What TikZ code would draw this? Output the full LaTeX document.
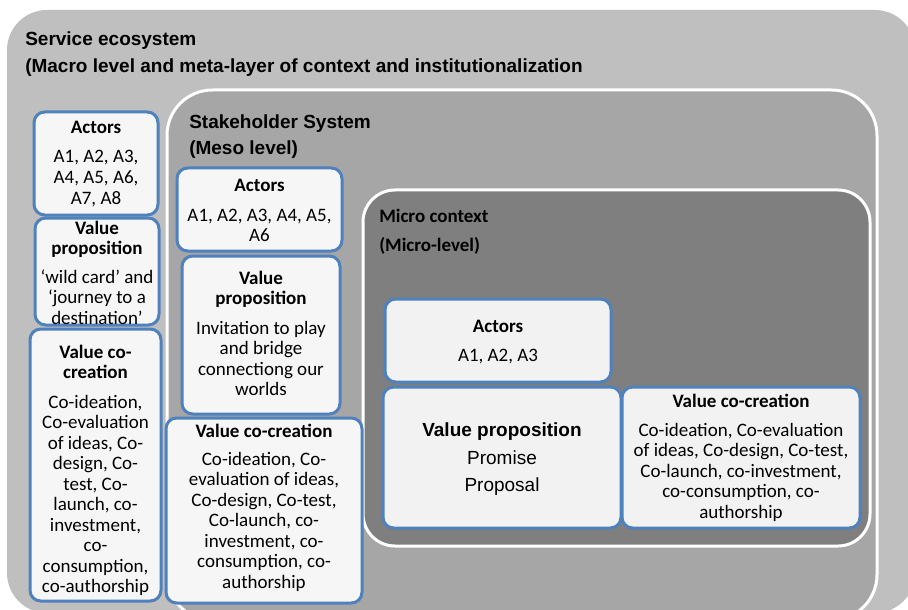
\documentclass[tikz,border=0pt]{standalone}
\usepackage{fontspec}
\usetikzlibrary{fit}
\newfontfamily\calfont{Carlito}
\newfontfamily\arialfont{Liberation Sans}
\newcommand\bodyf{\calfont\fontsize{14.25}{15.4}\selectfont}
\newcommand\headf{\calfont\bfseries\fontsize{14.25}{15.4}\selectfont}
\newcommand\titlef{\arialfont\bfseries\fontsize{14.25}{20.25}\selectfont}
\newcommand\arf{\arialfont\fontsize{14.25}{20.25}\selectfont}
\newcommand\arbf{\arialfont\bfseries\fontsize{14.25}{20.25}\selectfont}
\newcommand\ml[1]{\begin{tabular}[t]{@{}c@{}}#1\end{tabular}}
\definecolor{outerg}{HTML}{BFBFBF}
\definecolor{mesog}{HTML}{A6A6A6}
\definecolor{microg}{HTML}{7F7F7F}
\definecolor{boxblue}{HTML}{4F81BD}
\definecolor{boxfill}{HTML}{F2F2F2}
\definecolor{boxfillb}{HTML}{F6F6F6}
\tikzset{
  layer/.style={inner sep=0, rounded corners=#1},
  ibox/.style={draw=boxblue, line width=2.25pt, fill=boxfill, rounded corners=8pt, inner sep=0},
  iboxb/.style={ibox, fill=boxfillb},
  txt/.style={inner sep=0, anchor=base, font=\bodyf},
  hd/.style={inner sep=0, anchor=base, font=\headf},
  ttl/.style={inner sep=0, anchor=base west, font=\titlef},
}
\begin{document}
\begin{tikzpicture}[x=0.75pt, y=-0.75pt]
\useasboundingbox (0,0) rectangle (908,610);
\clip (0,0) rectangle (908,610);
% layers
\node[layer=30pt, fill=outerg, fit={(7,10) (915,613)}] (outer) {};
\node[layer=34pt, fill=mesog, draw=white, line width=2.25pt, fit={(167,90) (877,620)}] (meso) {};
\node[layer=24pt, fill=microg, draw=white, line width=2.25pt, fit={(363,190) (870,546)}] (micro) {};
% titles
\node[ttl] (t1) at (25,46) {Service ecosystem};
\node[ttl] (t2) at (25,73) {(Macro level and meta-layer of context and institutionalization};
\node[ttl] (t3) at (189,128) {Stakeholder System};
\node[ttl] (t4) at (189,155) {(Meso level)};
\node[ttl, font=\headf] (t5) at (379,223) {Micro context};
\node[ttl, font=\headf] (t6) at (379,251) {(Micro-level)};
% left column (macro)
\node[iboxb, fit={(34,112) (158,215)}] (la) {};
\node[hd] (la-h) at (96,133) {Actors};
\node[txt] (la-b) at (96,163) {\ml{A1, A2, A3,\\A4, A5, A6,\\A7, A8}};
\node[iboxb, fit={(35,218) (159,325)}] (lv) {};
\node[hd] (lv-h) at (97,234) {\ml{Value\\proposition}};
\node[txt] (lv-b) at (97,283) {\ml{‘wild card’ and\\‘journey to a\\destination’}};
\node[iboxb, fit={(30,329) (161,601)}] (lc) {};
\node[hd] (lc-h) at (95.5,358) {\ml{Value co-\\creation}};
\node[txt] (lc-b) at (95.5,408) {\ml{Co-ideation,\\Co-evaluation\\of ideas, Co-\\design, Co-\\test, Co-\\launch, co-\\investment,\\co-\\consumption,\\co-authorship}};
% meso column
\node[iboxb, fit={(177,168) (342,251)}] (ma) {};
\node[hd] (ma-h) at (259.5,191) {Actors};
\node[txt] (ma-b) at (259.5,221) {\ml{A1, A2, A3, A4, A5,\\A6}};
\node[iboxb, fit={(182,256) (340,414)}] (mv) {};
\node[hd] (mv-h) at (261,284) {\ml{Value\\proposition}};
\node[txt] (mv-b) at (261,334) {\ml{Invitation to play\\and bridge\\connectiong our\\worlds}};
\node[iboxb, fit={(166,418) (362,603)}] (mc) {};
\node[hd] (mc-h) at (264,437) {Value co-creation};
\node[txt] (mc-b) at (264,465) {\ml{Co-ideation, Co-\\evaluation of ideas,\\Co-design, Co-test,\\Co-launch, co-\\investment, co-\\consumption, co-\\authorship}};
% micro
\node[ibox, fit={(385,299) (611,382)}] (ia) {};
\node[hd] (ia-h) at (498,332) {Actors};
\node[txt] (ia-b) at (498,361) {A1, A2, A3};
\node[ibox, fit={(383,387) (621,528)}] (iv) {};
\node[inner sep=0, anchor=base, font=\arbf] (iv-h) at (502,436) {Value proposition};
\node[inner sep=0, anchor=base, font=\arf] (iv-b1) at (502,464) {Promise};
\node[inner sep=0, anchor=base, font=\arf] (iv-b2) at (502,491) {Proposal};
\node[ibox, fit={(622,387) (860,528)}] (ic) {};
\node[hd] (ic-h) at (741,407) {Value co-creation};
\node[txt] (ic-b) at (741,436) {\ml{Co-ideation, Co-evaluation\\of ideas, Co-design, Co-test,\\Co-launch, co-investment,\\co-consumption, co-\\authorship}};
\end{tikzpicture}
\end{document}
